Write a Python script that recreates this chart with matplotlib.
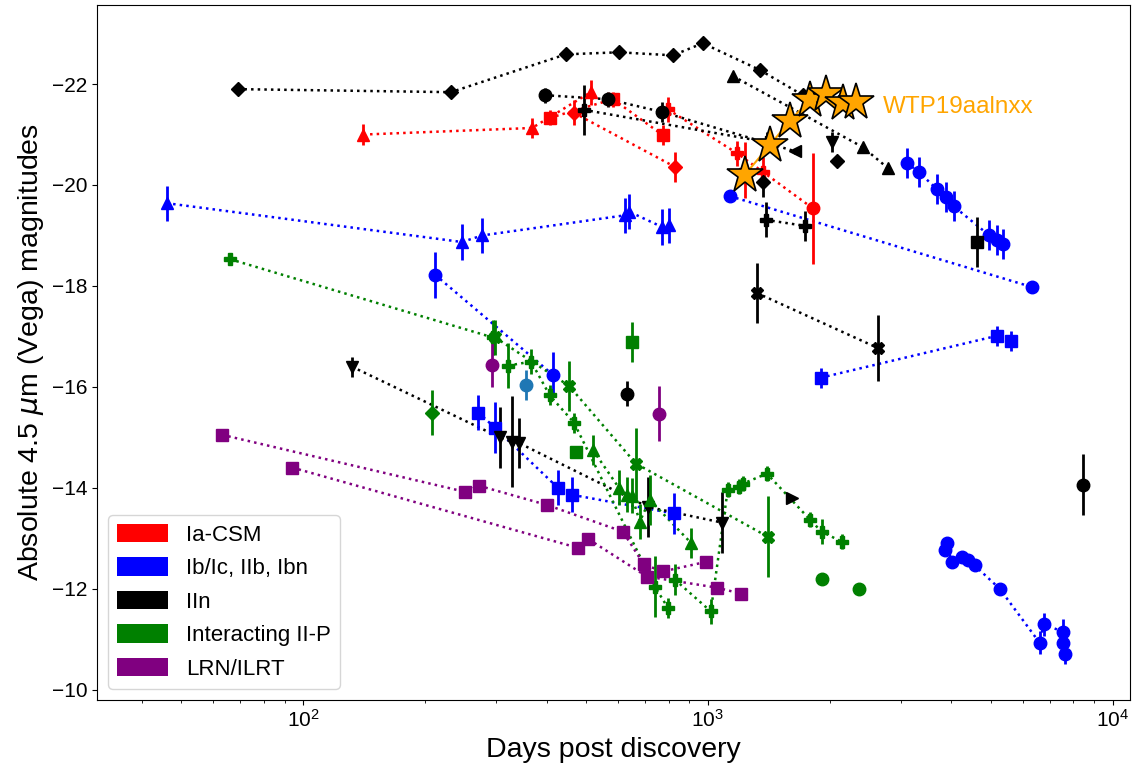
import matplotlib
matplotlib.use("agg")
import matplotlib.pyplot as plt
from matplotlib.patches import Patch

plt.rcParams["font.family"] = ["Liberation Sans", "DejaVu Sans"]

# Ia-CSM (red)
ia_a_t = [141, 368, 514]
ia_a_m = [-21.00, -21.13, -21.84]
ia_a_e = [0.2, 0.2, 0.25]
ia_b_t = [407, 583, 774]
ia_b_m = [-21.33, -21.70, -20.99]
ia_b_e = [0.15, 0.15, 0.2]
ia_c_t = [467, 829]
ia_c_m = [-21.43, -20.36]
ia_c_e = [0.25, 0.3]
ia_d_t = [797, 1180, 1368, 1816]
ia_d_m = [-21.50, -20.63, -20.26, -19.54]
ia_d_e = [0.25, 0.25, 0.3, 1.1]
ia_e_t = [1235]
ia_e_m = [-20.30]
ia_e_e = [0.55]

# Ib/Ic, IIb, Ibn (blue)
ib_a_t = [46, 247, 277, 625, 640, 770, 800]
ib_a_m = [-19.64, -18.87, -19.00, -19.40, -19.47, -19.17, -19.20]
ib_a_e = [0.35, 0.35, 0.35, 0.35, 0.35, 0.35, 0.35]
ib_b_t = [212, 414]
ib_b_m = [-18.22, -16.24]
ib_b_e = [0.45, 0.45]
ib_c_t = [271, 298, 426, 462, 825]
ib_c_m = [-15.49, -15.19, -14.00, -13.86, -13.49]
ib_c_e = [0.35, 0.5, 0.35, 0.35, 0.4]
ib_d_t = [1133, 6310]
ib_d_m = [-19.78, -17.98]
ib_d_e = [0.05, 0.05]
ib_e_t = [3100, 3320, 3675, 3873, 4048, 4943, 5173, 5350]
ib_e_m = [-20.44, -20.26, -19.92, -19.76, -19.58, -19.01, -18.91, -18.83]
ib_e_e = [0.3, 0.3, 0.3, 0.3, 0.3, 0.3, 0.3, 0.3]
ib_f_t = [1901, 5175, 5600]
ib_f_m = [-16.18, -17.01, -16.91]
ib_f_e = [0.2, 0.2, 0.2]
ib_g_t = [3850, 3890, 4002, 4240, 4385, 4563, 5260, 6600, 6760, 7530, 7560, 7650]
ib_g_m = [-12.77, -12.91, -12.53, -12.63, -12.57, -12.46, -12.00,
          -10.93, -11.29, -11.15, -10.93, -10.71]
ib_g_e = [0.05, 0.05, 0.05, 0.05, 0.05, 0.05, 0.05, 0.23, 0.23, 0.25, 0.1, 0.2]
ib_h_t = [355]
ib_h_m = [-16.04]
ib_h_e = [0.3]

# IIn (black)
iin_a_t = [69, 232, 446, 603, 820, 972, 1344, 1717]
iin_a_m = [-21.90, -21.84, -22.59, -22.63, -22.57, -22.81, -22.28, -21.78]
iin_b_t = [1153, 2415, 2781]
iin_b_m = [-22.16, -20.75, -20.34]
iin_c_t = [396, 566, 769, 1640]
iin_c_m = [-21.78, -21.70, -21.45, -20.67]
iin_c_e = [0.15, 0.15, 0.2, 0.05]
iin_d_t = [494, 1400]
iin_d_m = [-21.49, -20.85]
iin_d_e = [0.5, 0.2]
iin_e_t = [1370]
iin_e_m = [-20.06]
iin_e_e = [0.3]
iin_f_t = [1390, 1737]
iin_f_m = [-19.31, -19.19]
iin_f_e = [0.35, 0.3]
iin_g_t = [2025]
iin_g_m = [-20.85]
iin_g_e = [0.2]
iin_h_t = [2085]
iin_h_m = [-20.48]
iin_h_e = [0.1]
iin_i_t = [4614]
iin_i_m = [-18.87]
iin_i_e = [0.5]
iin_j_t = [1322, 2630]
iin_j_m = [-17.86, -16.77]
iin_j_e = [0.6, 0.65]
iin_k_t = [132, 306, 328, 341, 711, 1083]
iin_k_m = [-16.40, -15.00, -14.91, -14.89, -13.62, -13.31]
iin_k_e = [0.2, 0.6, 0.9, 0.5, 0.6, 0.6]
iin_l_t = [1611]
iin_l_m = [-13.80]
iin_m_t = [631]
iin_m_m = [-15.86]
iin_m_e = [0.25]
iin_n_t = [8430]
iin_n_m = [-14.06]
iin_n_e = [0.6]

# Interacting II-P (green)
g_a_t = [66, 294]
g_a_m = [-18.53, -16.98]
g_a_e = [0.1, 0.35]
g_b_t = [298, 454, 664, 1406]
g_b_m = [-16.98, -16.02, -14.48, -13.03]
g_b_e = [0.35, 0.5, 0.7, 0.8]
g_c_t = [321, 366, 407, 467, 740, 797]
g_c_m = [-16.42, -16.50, -15.83, -15.29, -12.04, -11.62]
g_c_e = [0.45, 0.25, 0.2, 0.2, 0.6, 0.2]
g_d_t = [829, 1017, 1120, 1193, 1220, 1400, 1787, 1910, 2143]
g_d_m = [-12.18, -11.55, -13.96, -14.02, -14.08, -14.28, -13.37, -13.13, -12.93]
g_d_e = [0.3, 0.25, 0.15, 0.15, 0.15, 0.15, 0.15, 0.25, 0.15]
g_e_t = [520, 603, 631, 649, 679, 719, 908]
g_e_m = [-14.75, -14.00, -13.86, -13.84, -13.33, -13.76, -12.91]
g_e_e = [0.3, 0.35, 0.35, 0.35, 0.35, 0.5, 0.3]
g_f_t = [472]
g_f_m = [-14.71]
g_g_t = [649]
g_g_m = [-16.89]
g_g_e = [0.4]
g_h_t = [208]
g_h_m = [-15.49]
g_h_e = [0.45]
g_i_t = [1910, 2360]
g_i_m = [-12.20, -12.00]

# LRN/ILRT (purple)
p_a_t = [63, 251, 272, 400, 617, 695, 774, 989]
p_a_m = [-15.05, -13.92, -14.04, -13.66, -13.13, -12.48, -12.34, -12.53]
p_b_t = [94, 477, 505, 707, 1053, 1209]
p_b_m = [-14.40, -12.81, -12.99, -12.24, -12.02, -11.90]
p_c_t = [293, 757]
p_c_m = [-16.44, -15.47]
p_c_e = [0.45, 0.55]

# WTP19aalnxx
wtp_t = [1234, 1423, 1594, 1785, 1955, 2154, 2318]
wtp_m = [-20.20, -20.79, -21.27, -21.68, -21.80, -21.62, -21.64]

legend_labels = ["Ia-CSM", "Ib/Ic, IIb, Ibn", "IIn", "Interacting II-P", "LRN/ILRT"]
legend_colors = ["red", "blue", "black", "green", "purple"]

# (t, m, err, color, marker, connect)
curves = [
    (ia_a_t, ia_a_m, ia_a_e, "red", "^", True),
    (ia_b_t, ia_b_m, ia_b_e, "red", "s", True),
    (ia_c_t, ia_c_m, ia_c_e, "red", "D", True),
    (ia_d_t, ia_d_m, ia_d_e, "red", ["P", "P", "P", "o"], True),
    (ia_e_t, ia_e_m, ia_e_e, "red", "P", False),
    (ib_a_t, ib_a_m, ib_a_e, "blue", "^", True),
    (ib_b_t, ib_b_m, ib_b_e, "blue", "o", True),
    (ib_c_t, ib_c_m, ib_c_e, "blue", "s", True),
    (ib_d_t, ib_d_m, ib_d_e, "blue", "o", True),
    (ib_e_t, ib_e_m, ib_e_e, "blue", "o", True),
    (ib_f_t, ib_f_m, ib_f_e, "blue", "s", True),
    (ib_g_t, ib_g_m, ib_g_e, "blue", "o", True),
    (ib_h_t, ib_h_m, ib_h_e, "tab:blue", "o", False),
    (iin_a_t, iin_a_m, None, "black", "D", True),
    (iin_b_t, iin_b_m, None, "black", "^", True),
    (iin_c_t, iin_c_m, iin_c_e, "black", ["o", "o", "o", "<"], True),
    (iin_d_t, iin_d_m, iin_d_e, "black", "P", True),
    (iin_e_t, iin_e_m, iin_e_e, "black", "D", False),
    (iin_f_t, iin_f_m, iin_f_e, "black", "P", True),
    (iin_g_t, iin_g_m, iin_g_e, "black", "v", False),
    (iin_h_t, iin_h_m, iin_h_e, "black", "D", False),
    (iin_i_t, iin_i_m, iin_i_e, "black", "s", False),
    (iin_j_t, iin_j_m, iin_j_e, "black", "X", True),
    (iin_k_t, iin_k_m, iin_k_e, "black", "v", True),
    (iin_l_t, iin_l_m, None, "black", ">", False),
    (iin_m_t, iin_m_m, iin_m_e, "black", "o", False),
    (iin_n_t, iin_n_m, iin_n_e, "black", "o", False),
    (g_a_t, g_a_m, g_a_e, "green", "P", True),
    (g_b_t, g_b_m, g_b_e, "green", "X", True),
    (g_c_t, g_c_m, g_c_e, "green", "P", True),
    (g_d_t, g_d_m, g_d_e, "green", "P", True),
    (g_e_t, g_e_m, g_e_e, "green", "^", True),
    (g_f_t, g_f_m, None, "green", "s", False),
    (g_g_t, g_g_m, g_g_e, "green", "s", False),
    (g_h_t, g_h_m, g_h_e, "green", "D", False),
    (g_i_t, g_i_m, None, "green", "o", False),
    (p_a_t, p_a_m, None, "purple", "s", True),
    (p_b_t, p_b_m, None, "purple", "s", True),
    (p_c_t, p_c_m, p_c_e, "purple", "o", False),
]

sizes = {"o": 9, "s": 8, "D": 7.5, "^": 8.5, "v": 8.5, "<": 8.5, ">": 8.5,
         "P": 9, "X": 9}

fig = plt.figure(figsize=(11.43, 7.68), dpi=100)
ax = fig.add_axes((0.085, 0.089, 0.904, 0.904))

for t, m, err, color, marker, connect in curves:
    if connect:
        ax.plot(t, m, ls=":", lw=1.8, color=color, zorder=2)
    markers = marker if isinstance(marker, list) else [marker] * len(t)
    for i, mk in enumerate(markers):
        ax.errorbar(t[i], m[i], yerr=None if err is None else err[i],
                    fmt=mk, color=color, ms=sizes[mk], elinewidth=2,
                    capsize=0, zorder=3)

# the headline object
ax.plot(wtp_t, wtp_m, "-", color="orange", lw=1.5, zorder=4)
ax.plot(wtp_t, wtp_m, "*", color="orange", ms=28, mec="black", mew=1.2,
        zorder=5)
ax.text(2700, -21.55, "WTP19aalnxx", color="orange", fontsize=17.5,
        ha="left", va="center")

ax.set_xscale("log")
ax.set_xlim(31, 11070)
ax.set_ylim(-9.8, -23.56)
ax.set_yticks([-22, -20, -18, -16, -14, -12, -10])
ax.tick_params(labelsize=15)
ax.set_xlabel("Days post discovery", fontsize=20.5)
ax.set_ylabel(r"Absolute 4.5 $\mu$m (Vega) magnitudes", fontsize=20.5)

handles = [Patch(facecolor=c, label=l) for c, l in zip(legend_colors, legend_labels)]
ax.legend(handles=handles, loc="lower left", fontsize=16, handlelength=2.3,
          handleheight=0.9, labelspacing=0.52)

fig.savefig("out.png", dpi=100)
